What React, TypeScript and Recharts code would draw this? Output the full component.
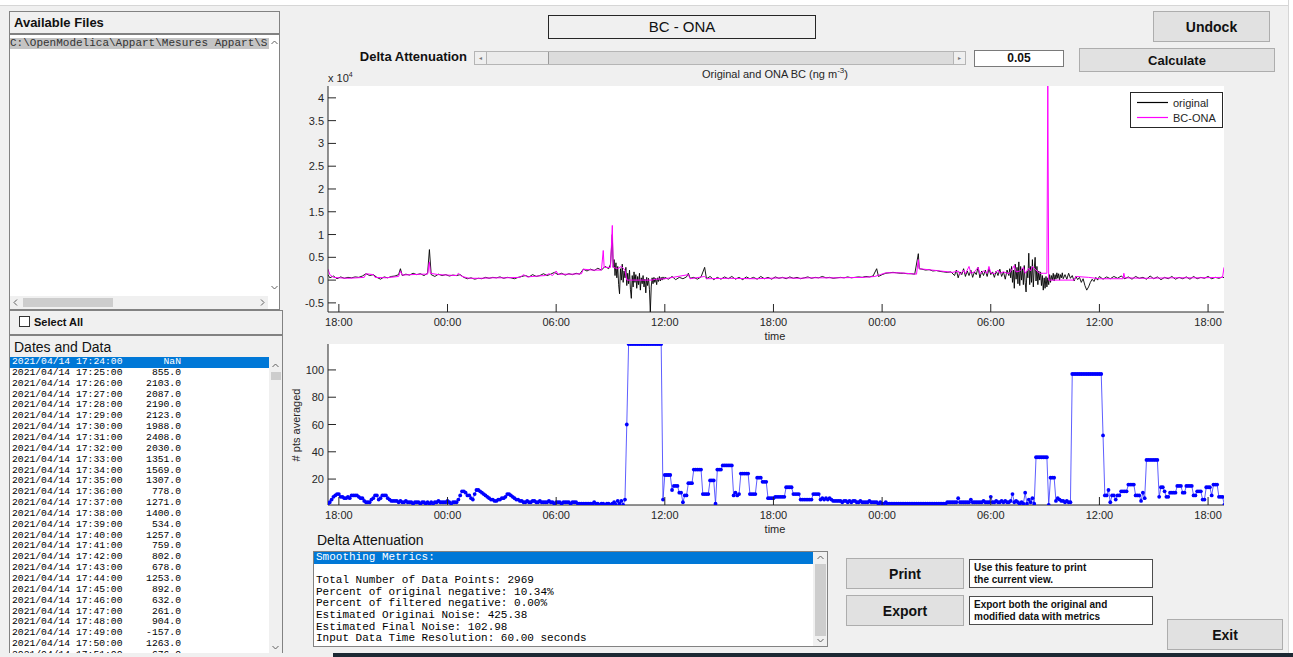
import React from 'react';
import { LineChart, Line, XAxis, YAxis, CartesianGrid, Legend } from 'recharts';

// time axis is in hours since 2021/04/14 00:00
const TIME_DOMAIN: [number, number] = [17.4, 66.88];
const TIME_TICKS = [18, 24, 30, 36, 42, 48, 54, 60, 66];

// BC values in units of 10^4 ng m^-3
const BC_DOMAIN: [number, number] = [-0.7, 4.26];
const BC_TICKS = [-0.5, 0, 0.5, 1, 1.5, 2, 2.5, 3, 3.5, 4];
const SERIES_NAMES = ['original', 'BC-ONA'];
const SERIES_COLORS: Record<string, string> = { original: '#000000', 'BC-ONA': '#ff00ff' };

const PTS_DOMAIN: [number, number] = [1, 119];
const PTS_TICKS = [20, 40, 60, 80, 100];

// [hour, value]
const ORIGINAL: [number, number][] = [
  [17.4, 0.12], [17.5, 0.05], [17.7, 0.09], [17.9, 0.03], [18.1, 0.07], [18.3, 0.04], [18.5, 0.06],
  [18.7, 0.05], [18.9, 0.07], [19.1, 0.06], [19.3, 0.09], [19.5, 0.14], [19.7, 0.1], [19.9, 0.12],
  [20.1, 0.06], [20.3, 0.02], [20.5, 0.07], [20.7, 0.05], [20.9, 0.08], [21.1, 0.09], [21.3, 0.12],
  [21.4, 0.25], [21.5, 0.1], [21.7, 0.13], [21.9, 0.11], [22.1, 0.15], [22.3, 0.12], [22.5, 0.14],
  [22.7, 0.1], [22.9, 0.15], [23.0, 0.67], [23.1, 0.12], [23.3, 0.08], [23.5, 0.13], [23.7, 0.1],
  [23.9, 0.12], [24.1, 0.09], [24.3, 0.11], [24.5, 0.1], [24.7, 0.12], [24.9, 0.06], [25.1, 0.03],
  [25.3, 0.05], [25.5, 0.02], [25.7, 0.04], [25.9, 0.03], [26.1, 0.06], [26.3, 0.04], [26.5, 0.06],
  [26.7, 0.05], [26.9, 0.07], [27.1, 0.04], [27.3, 0.06], [27.5, 0.05], [27.7, 0.03], [27.9, 0.06],
  [28.1, 0.08], [28.3, 0.1], [28.5, 0.07], [28.7, 0.12], [28.9, 0.08], [29.1, 0.1], [29.3, 0.14],
  [29.5, 0.1], [29.7, 0.13], [29.9, 0.17], [30.1, 0.12], [30.3, 0.15], [30.5, 0.11], [30.7, 0.14],
  [30.9, 0.12], [31.1, 0.15], [31.3, 0.13], [31.5, 0.24], [31.7, 0.2], [31.9, 0.24], [32.1, 0.21],
  [32.3, 0.26], [32.5, 0.22], [32.7, 0.3], [32.9, 0.25], [33.0, 0.35], [33.1, 1.0], [33.15, 0.28],
  [33.2, 0.45], [33.25, 0.1], [33.3, 0.38], [33.35, 0.05], [33.4, 0.3], [33.45, -0.1], [33.5, -0.3],
  [33.55, 0.25], [33.6, 0.0], [33.65, 0.35], [33.7, -0.05], [33.75, 0.2], [33.8, 0.05], [33.85, 0.28],
  [33.9, -0.12], [33.95, 0.15], [34.0, -0.08], [34.05, 0.22], [34.1, -0.2], [34.15, -0.4], [34.2, 0.1],
  [34.25, -0.15], [34.3, 0.18], [34.35, -0.05], [34.4, 0.12], [34.45, -0.18], [34.5, 0.08], [34.55, -0.1],
  [34.6, 0.15], [34.65, -0.22], [34.7, 0.05], [34.75, -0.08], [34.8, 0.1], [34.85, -0.15], [34.9, 0.02],
  [34.95, -0.28], [35.0, 0.06], [35.05, -0.12], [35.1, 0.04], [35.15, -0.2], [35.2, -0.7], [35.25, -0.15],
  [35.3, 0.05], [35.35, -0.08], [35.4, 0.06], [35.45, -0.05], [35.5, 0.04], [35.55, -0.1], [35.6, 0.05],
  [35.65, -0.03], [35.7, 0.08], [35.75, -0.02], [35.8, 0.06], [35.85, 0.0], [35.9, 0.07], [35.95, 0.02],
  [36.0, 0.06], [36.2, 0.02], [36.4, 0.08], [36.6, 0.01], [36.8, 0.06], [37.0, 0.03], [37.2, 0.07],
  [37.3, 0.15], [37.4, 0.04], [37.6, 0.06], [37.8, 0.02], [38.0, 0.07], [38.2, 0.28], [38.3, 0.03],
  [38.5, 0.08], [38.7, 0.01], [38.9, 0.06], [39.1, 0.02], [39.3, 0.07], [39.5, 0.03], [39.7, 0.08],
  [39.9, 0.02], [40.1, 0.06], [40.3, 0.01], [40.5, 0.07], [40.7, 0.03], [40.9, 0.06], [41.1, 0.02],
  [41.3, 0.08], [41.5, 0.03], [41.7, 0.06], [41.9, 0.02], [42.1, 0.07], [42.3, 0.04], [42.5, 0.06],
  [42.7, 0.03], [42.9, 0.07], [43.1, 0.04], [43.3, 0.06], [43.5, 0.03], [43.7, 0.05], [43.9, 0.07],
  [44.1, 0.04], [44.3, 0.06], [44.5, 0.05], [44.7, 0.08], [44.9, 0.05], [45.1, 0.06], [45.3, 0.04],
  [45.5, 0.05], [45.7, 0.06], [45.9, 0.05], [46.1, 0.07], [46.3, 0.05], [46.5, 0.06], [46.7, 0.07],
  [46.9, 0.06], [47.1, 0.08], [47.3, 0.07], [47.5, 0.09], [47.7, 0.25], [47.8, 0.08], [48.0, 0.12],
  [48.2, 0.15], [48.4, 0.16], [48.6, 0.17], [48.8, 0.16], [49.0, 0.15], [49.2, 0.15], [49.4, 0.14],
  [49.6, 0.14], [49.8, 0.13], [50.0, 0.58], [50.05, 0.25], [50.2, 0.24], [50.4, 0.22], [50.6, 0.23],
  [50.8, 0.2], [51.0, 0.21], [51.2, 0.19], [51.4, 0.18], [51.6, 0.17], [51.8, 0.18], [52.0, 0.1],
  [52.1, 0.22], [52.2, 0.05], [52.3, 0.18], [52.4, 0.12], [52.5, 0.25], [52.6, 0.08], [52.7, 0.2],
  [52.8, 0.1], [52.9, 0.22], [53.0, 0.06], [53.1, 0.18], [53.2, 0.12], [53.3, 0.28], [53.4, 0.05],
  [53.5, 0.2], [53.6, 0.1], [53.7, 0.22], [53.8, 0.08], [53.9, 0.25], [54.0, 0.12], [54.1, 0.18],
  [54.2, 0.06], [54.3, 0.2], [54.4, 0.1], [54.5, 0.24], [54.6, 0.08], [54.7, 0.18], [54.8, 0.02],
  [54.9, 0.22], [55.0, 0.1], [55.05, 0.25], [55.1, 0.05], [55.15, 0.3], [55.2, -0.05], [55.25, 0.22],
  [55.3, -0.18], [55.35, 0.35], [55.4, 0.02], [55.45, 0.28], [55.5, -0.08], [55.55, 0.4], [55.6, -0.12],
  [55.65, 0.3], [55.7, 0.0], [55.75, 0.25], [55.8, -0.1], [55.85, 0.32], [55.9, -0.05], [55.95, -0.26],
  [56.0, 0.2], [56.05, 0.05], [56.1, 0.59], [56.15, -0.1], [56.2, 0.3], [56.25, -0.05], [56.3, 0.45],
  [56.35, -0.15], [56.4, 0.25], [56.45, 0.5], [56.5, -0.02], [56.55, 0.3], [56.6, -0.1], [56.65, 0.2],
  [56.7, 0.0], [56.75, 0.18], [56.8, -0.12], [56.85, 0.1], [56.9, -0.22], [56.95, 0.05], [57.0, -0.18],
  [57.05, 0.08], [57.1, -0.15], [57.15, 0.05], [57.2, -0.1], [57.25, 0.12], [57.3, -0.05], [57.35, 0.1],
  [57.4, 0.0], [57.45, 0.15], [57.5, -0.02], [57.55, 0.12], [57.6, 0.02], [57.65, 0.16], [57.7, 0.04],
  [57.75, 0.14], [57.8, 0.0], [57.85, 0.12], [57.9, 0.05], [57.95, 0.16], [58.0, 0.03], [58.1, 0.12],
  [58.2, 0.02], [58.3, 0.15], [58.4, 0.04], [58.5, 0.1], [58.6, -0.02], [58.7, 0.08], [58.8, 0.01],
  [58.9, 0.06], [59.0, -0.05], [59.1, 0.03], [59.2, -0.12], [59.3, -0.22], [59.4, -0.15], [59.5, -0.05],
  [59.6, 0.02], [59.7, -0.03], [59.8, 0.06], [59.9, 0.0], [60.0, 0.08], [60.2, 0.02], [60.4, 0.07],
  [60.6, 0.03], [60.8, 0.08], [61.0, 0.04], [61.2, 0.09], [61.4, 0.03], [61.6, 0.07], [61.8, 0.02],
  [62.0, 0.08], [62.2, 0.04], [62.4, 0.06], [62.6, 0.02], [62.8, 0.09], [63.0, 0.03], [63.2, 0.07],
  [63.4, 0.01], [63.6, 0.06], [63.8, 0.03], [64.0, 0.08], [64.2, 0.02], [64.4, 0.06], [64.6, 0.03],
  [64.8, 0.07], [65.0, 0.02], [65.2, 0.08], [65.4, 0.03], [65.6, 0.06], [65.8, 0.04], [66.0, 0.08],
  [66.2, 0.03], [66.4, 0.06], [66.6, 0.04], [66.8, 0.07], [66.88, 0.05],
];

const BC_ONA: [number, number][] = [
  [17.4, 0.24], [17.5, 0.12], [17.7, 0.06], [18.0, 0.05], [18.5, 0.04], [19.0, 0.05], [19.4, 0.06],
  [19.5, 0.14], [19.9, 0.12], [20.0, 0.06], [20.6, 0.05], [21.3, 0.08], [21.4, 0.2], [21.5, 0.11],
  [22.0, 0.12], [22.6, 0.13], [22.9, 0.13], [23.0, 0.4], [23.05, 0.15], [23.5, 0.12], [24.0, 0.11],
  [24.5, 0.1], [24.6, 0.15], [24.8, 0.08], [25.2, 0.04], [25.8, 0.04], [26.5, 0.05], [27.2, 0.05],
  [28.0, 0.06], [28.2, 0.12], [28.4, 0.07], [29.0, 0.09], [29.4, 0.1], [29.6, 0.14], [29.8, 0.1],
  [30.0, 0.2], [30.1, 0.13], [30.8, 0.13], [31.4, 0.14], [31.5, 0.24], [32.0, 0.22], [32.5, 0.22],
  [32.6, 0.65], [32.65, 0.28], [33.0, 0.28], [33.1, 1.2], [33.15, 0.28], [33.4, 0.25], [33.6, 0.3],
  [33.8, 0.22], [33.9, 0.0], [35.3, 0.0], [35.5, 0.02], [36.0, 0.03], [37.3, 0.12], [37.4, 0.03],
  [38.2, 0.08], [38.3, 0.03], [39.5, 0.04], [41.0, 0.03], [42.5, 0.05], [43.4, 0.04], [44.0, 0.05],
  [45.5, 0.05], [47.0, 0.06], [47.6, 0.08], [47.9, 0.12], [48.2, 0.16], [49.0, 0.16], [49.9, 0.13],
  [50.0, 0.45], [50.05, 0.25], [51.0, 0.21], [51.9, 0.17], [52.2, 0.2], [52.3, 0.12], [52.5, 0.22],
  [52.6, 0.14], [52.8, 0.3], [52.9, 0.15], [53.1, 0.18], [53.3, 0.28], [53.4, 0.14], [53.6, 0.2],
  [53.8, 0.15], [53.9, 0.3], [54.0, 0.16], [54.2, 0.14], [54.4, 0.22], [54.5, 0.15], [54.7, 0.18],
  [55.0, 0.14], [55.2, 0.25], [55.3, 0.32], [55.4, 0.18], [55.6, 0.2], [55.8, 0.28], [55.9, 0.15],
  [56.1, 0.26], [56.2, 0.2], [56.3, 0.3], [56.5, 0.22], [56.7, 0.15], [56.9, 0.15], [57.1, 0.15],
  [57.15, 4.26], [57.2, 0.0], [58.6, 0.0], [58.7, 0.08], [59.4, 0.06], [60.0, 0.03], [61.3, 0.03],
  [61.35, 0.15], [61.4, 0.05], [62.5, 0.04], [64.0, 0.05], [65.5, 0.05], [66.8, 0.06], [66.88, 0.28],
];

// # pts averaged, one value every 0.1 h from 17.4 h
const PTS_START = 17.4;
const PTS_STEP = 0.1;
const PTS_AVERAGED = [
  2, 3, 5, 7, 8, 9,
  9, 7, 7, 6, 6, 7, 6, 8, 8, 8,
  8, 7, 6, 6, 4, 3, 3, 3, 5, 6,
  8, 8, 5, 6, 8, 8, 8, 6, 5, 4,
  4, 4, 4, 3, 4, 3, 3, 4, 3, 3,
  3, 2, 3, 3, 3, 2, 3, 3, 2, 3,
  2, 3, 1, 3, 3, 4, 3, 3, 3, 3,
  4, 3, 1, 3, 3, 3, 5, 8, 11, 11,
  10, 8, 8, 6, 5, 9, 12, 12, 11, 10,
  9, 8, 7, 6, 5, 5, 4, 4, 5, 5,
  6, 6, 7, 9, 9, 8, 7, 6, 5, 5,
  4, 4, 3, 3, 4, 3, 3, 4, 4, 3,
  3, 4, 3, 3, 3, 3, 4, 3, 3, 2,
  3, 3, 3, 2, 3, 3, 3, 3, 2, 3,
  3, 3, 2, 2, 2, 2, 2, 2, 2, 2,
  2, 3, 2, 2, 1, 2, 2, 1, 2, 2,
  1, 2, 3, 1, 4, 2, 4, 1, 5, 60,
  119, 119, 119, 119, 119, 119, 119, 119, 119, 119,
  119, 119, 119, 119, 119, 119, 119, 119, 119, 5,
  23, 23, 23, 23, 12, 15, 15, 15, 10, 10,
  3, 8, 8, 17, 17, 17, 27, 27, 27, 27,
  27, 9, 9, 9, 9, 19, 19, 19, 2, 27,
  27, 27, 30, 30, 30, 30, 30, 30, 8, 10,
  8, 9, 24, 24, 24, 24, 24, 9, 9, 9,
  9, 21, 21, 21, 18, 18, 18, 6, 6, 6,
  6, 7, 7, 7, 7, 7, 7, 14, 14, 14,
  14, 9, 9, 9, 9, 5, 5, 5, 5, 5,
  5, 5, 9, 9, 9, 9, 5, 6, 5, 6,
  5, 6, 5, 4, 4, 4, 4, 4, 3, 4,
  4, 3, 4, 3, 4, 4, 3, 3, 4, 3,
  3, 3, 3, 4, 3, 3, 3, 3, 2, 3,
  2, 2, 3, 2, 2, 2, 2, 2, 2, 2,
  2, 2, 2, 2, 2, 2, 2, 2, 2, 2,
  2, 2, 2, 2, 2, 2, 2, 2, 2, 2,
  2, 2, 2, 2, 2, 2, 3, 3, 3, 3,
  3, 3, 6, 3, 3, 3, 3, 3, 3, 5,
  3, 3, 3, 3, 3, 3, 4, 3, 3, 3,
  7, 3, 3, 4, 3, 3, 4, 3, 4, 3,
  3, 4, 9, 3, 4, 3, 2, 3, 2, 10,
  2, 5, 3, 6, 2, 36, 36, 36, 36, 36,
  36, 36, 1, 21, 21, 21, 4, 6, 5, 4,
  4, 3, 4, 3, 3, 97, 97, 97, 97, 97,
  97, 97, 97, 97, 97, 97, 97, 97, 97, 97,
  97, 97, 52, 8, 8, 12, 3, 8, 8, 5,
  8, 8, 11, 11, 11, 11, 16, 16, 16, 16,
  8, 8, 8, 4, 10, 6, 34, 34, 34, 34,
  34, 34, 34, 7, 14, 14, 11, 7, 7, 10,
  10, 10, 10, 15, 15, 15, 10, 10, 15, 15,
  15, 15, 8, 8, 11, 11, 11, 5, 5, 14,
  14, 14, 8, 16, 16, 16, 7, 7, 7, 1,
];

const LIST_DATE = '2021/04/14';
const LIST_TIMES = [
  '17:24:00', '17:25:00', '17:26:00', '17:27:00', '17:28:00', '17:29:00', '17:30:00',
  '17:31:00', '17:32:00', '17:33:00', '17:34:00', '17:35:00', '17:36:00', '17:37:00',
  '17:38:00', '17:39:00', '17:40:00', '17:41:00', '17:42:00', '17:43:00', '17:44:00',
  '17:45:00', '17:46:00', '17:47:00', '17:48:00', '17:49:00', '17:50:00', '17:51:00',
];
const LIST_VALUES = [
  'NaN', '855.0', '2103.0', '2087.0', '2190.0', '2123.0', '1988.0', '2408.0', '2030.0',
  '1351.0', '1569.0', '1307.0', '778.0', '1271.0', '1400.0', '534.0', '1257.0', '759.0',
  '802.0', '678.0', '1253.0', '892.0', '632.0', '261.0', '904.0', '-157.0', '1263.0', '676.0',
];

const METRICS = [
  'Smoothing Metrics:',
  '',
  'Total Number of Data Points: 2969',
  'Percent of original negative: 10.34%',
  'Percent of filtered negative: 0.00%',
  'Estimated Originai Noise: 425.38',
  'Estimated Final Noise: 102.98',
  'Input Data Time Resolution: 60.00 seconds',
];

const SANS = '"Liberation Sans", Arial, Helvetica, sans-serif';
const MONO = '"Liberation Mono", "Courier New", monospace';
const AXIS = '#262626';
const TICK_LEN = 8;
const BG = '#f0f0f0';

const fmtHour = (h: number) => `${String(h % 24).padStart(2, '0')}:00`;

// MATLAB style ticks: drawn inside the box, labels outside
const BottomTick = (p: any) => (
  <g>
    <line x1={p.x} x2={p.x} y1={p.y} y2={p.y - TICK_LEN} stroke={AXIS} />
    <text x={p.x} y={p.y + 14} textAnchor="middle" fontSize={11} fontFamily={SANS} fill={AXIS}>
      {fmtHour(p.payload.value)}
    </text>
  </g>
);
const TopTick = (p: any) => <line x1={p.x} x2={p.x} y1={p.y} y2={p.y + TICK_LEN} stroke={AXIS} />;
const LeftTick = (p: any) => (
  <g>
    <line x1={p.x} x2={p.x + TICK_LEN} y1={p.y} y2={p.y} stroke={AXIS} />
    <text x={p.x - 4} y={p.y + 4} textAnchor="end" fontSize={11} fontFamily={SANS} fill={AXIS}>
      {String(p.payload.value)}
    </text>
  </g>
);
const RightTick = (p: any) => <line x1={p.x} x2={p.x - TICK_LEN} y1={p.y} y2={p.y} stroke={AXIS} />;

const BlueDot = (p: any) => <circle key={p.index} cx={p.cx} cy={p.cy} r={1.9} fill="#0000ff" />;

const BcLegend = (props: any) => {
  const items = [...(props.payload || [])].sort(
    (a: any, b: any) => SERIES_NAMES.indexOf(a.value) - SERIES_NAMES.indexOf(b.value),
  );
  return (
    <div style={{ width: 93, height: 36, background: '#fff', border: `1px solid ${AXIS}`, boxSizing: 'border-box', paddingTop: 2 }}>
      {items.map((e: any) => (
        <div key={e.value} style={{ display: 'flex', alignItems: 'center', height: 15, fontFamily: SANS, fontSize: 11, color: AXIS }}>
          <svg width={42} height={15} style={{ flex: 'none' }}>
            <line x1={6} x2={37} y1={7.5} y2={7.5} stroke={SERIES_COLORS[e.value] ?? e.color} strokeWidth={1.2} />
          </svg>
          {e.value}
        </div>
      ))}
    </div>
  );
};

const Chevron = ({ x, y, dir }: { x: number; y: number; dir: 'up' | 'down' | 'left' | 'right' }) => {
  const pts = {
    up: '0.5,5 3.5,2 6.5,5',
    down: '0.5,2 3.5,5 6.5,2',
    left: '5,0.5 2,3.5 5,6.5',
    right: '2,0.5 5,3.5 2,6.5',
  }[dir];
  return (
    <svg width={7} height={7} style={{ position: 'absolute', left: x - 3.5, top: y - 3.5 }}>
      <polyline points={pts} fill="none" stroke="#606060" strokeWidth={1} />
    </svg>
  );
};

const abs = (left: number, top: number, width: number, height: number, extra: React.CSSProperties = {}): React.CSSProperties => ({
  position: 'absolute', left, top, width, height, boxSizing: 'border-box', ...extra,
});

const Button = ({ x, y, w, h, label, size = 14 }: any) => (
  <div style={abs(x, y, w, h, {
    background: '#e1e1e1', border: '1px solid #adadad', fontFamily: SANS, fontWeight: 'bold',
    fontSize: size, color: '#111', display: 'flex', alignItems: 'center', justifyContent: 'center',
  })}>{label}</div>
);

const InfoBox = ({ x, y, lines }: any) => (
  <div style={abs(x, y, 184, 29, {
    background: '#fff', border: '1px solid #4d4d4d', fontFamily: SANS, fontWeight: 'bold', fontSize: 10,
    lineHeight: '12px', padding: '2px 0 0 4px', color: '#111',
  })}>
    {lines.map((l: string) => <div key={l}>{l}</div>)}
  </div>
);

export default function App() {
  const origData = ORIGINAL.map(([t, v]) => ({ t, v }));
  const onaData = BC_ONA.map(([t, v]) => ({ t, v }));
  const ptsData = PTS_AVERAGED.map((v, i) => ({ t: PTS_START + i * PTS_STEP, v }));

  const axisLine = { stroke: AXIS };

  return (
    <div style={{ position: 'fixed', left: 0, top: 0, width: 1293, height: 657, background: BG, overflow: 'hidden', fontFamily: SANS }}>
      {/* window edges */}
      <div style={abs(0, 0, 1293, 6, { background: '#fff', borderBottom: '1px solid #d6d6d6' })} />
      <div style={abs(1288, 0, 5, 657, { background: '#fff', borderLeft: '1px solid #d6d6d6' })} />
      <div style={abs(333, 653, 960, 4, { background: '#1c2833' })} />

      {/* left column */}
      <div style={abs(9, 11, 271, 23, { border: '1px solid #828282', fontSize: 13, fontWeight: 'bold', lineHeight: '21px', paddingLeft: 4, color: '#111' })}>
        Available Files
      </div>
      <div style={abs(9, 34, 271, 276, { background: '#fff', border: '1px solid #828282', overflow: 'hidden' })}>
        <div style={abs(0, 3, 259, 11, { background: '#c4c4c4', fontFamily: MONO, fontSize: 11, lineHeight: '11px', color: '#333', whiteSpace: 'nowrap', overflow: 'hidden' })}>
          C:\OpenModelica\Appart\Mesures Appart\S
        </div>
      </div>
      <Chevron x={274} y={42} dir="up" />
      <Chevron x={274} y={287} dir="down" />
      <div style={abs(10, 296, 258, 13, { background: BG })} />
      <div style={abs(23, 298, 90, 9, { background: '#cdcdcd' })} />
      <Chevron x={15} y={302} dir="left" />
      <Chevron x={262} y={302} dir="right" />

      <div style={abs(9, 310, 274, 25, { border: '1px solid #828282' })} />
      <div style={abs(19, 316, 11, 11, { background: '#fff', border: '1px solid #333' })} />
      <div style={abs(34, 314, 100, 16, { fontSize: 11, fontWeight: 'bold', lineHeight: '16px', color: '#111' })}>Select All</div>

      <div style={abs(9, 335, 274, 23, { border: '1px solid #828282', fontSize: 14, lineHeight: '22px', paddingLeft: 4, color: '#111' })}>
        Dates and Data
      </div>
      <div style={abs(9, 357, 274, 296, { background: '#fff', borderLeft: '1px solid #828282', borderRight: '1px solid #828282', overflow: 'hidden' })}>
        {LIST_TIMES.map((t, i) => (
          <div key={t} style={abs(0, i * 10.85, 259, 10.85, {
            background: i === 0 ? '#0078d7' : 'transparent', color: i === 0 ? '#fff' : '#000',
            fontFamily: MONO, fontSize: 9.7, lineHeight: '10.85px', whiteSpace: 'pre',
          })}>
            <span style={{ position: 'absolute', left: 2 }}>{`${LIST_DATE} ${t}`}</span>
            <span style={{ position: 'absolute', right: 88 }}>{LIST_VALUES[i]}</span>
          </div>
        ))}
        <div style={abs(259, 0, 14, 296, { background: BG })} />
        <div style={abs(261, 15, 10, 8, { background: '#cdcdcd' })} />
      </div>
      <Chevron x={275} y={365} dir="up" />
      <Chevron x={275} y={647} dir="down" />

      {/* top controls */}
      <div style={abs(548, 15, 268, 24, { border: `1px solid ${AXIS}`, fontSize: 15, lineHeight: '22px', textAlign: 'center', color: '#111' })}>
        BC - ONA
      </div>
      <div style={abs(330, 49, 137, 16, { fontSize: 13, fontWeight: 'bold', textAlign: 'right', lineHeight: '16px', color: '#111' })}>
        Delta Attenuation
      </div>
      <div style={abs(474, 51, 492, 14, { background: '#dcdcdc', border: '1px solid #b5b5b5' })}>
        <div style={abs(0, 0, 12, 12, { background: '#efefef', borderRight: '1px solid #b5b5b5', fontSize: 6, color: '#777', textAlign: 'center', lineHeight: '12px' })}>◂</div>
        <div style={abs(12, 0, 62, 12, { background: '#ebebeb', borderRight: '1px solid #9a9a9a' })} />
        <div style={abs(478, 0, 12, 12, { background: '#efefef', borderLeft: '1px solid #b5b5b5', fontSize: 6, color: '#777', textAlign: 'center', lineHeight: '12px' })}>▸</div>
      </div>
      <div style={abs(974, 50, 90, 17, { background: '#fff', border: '1px solid #7a7a7a', fontSize: 12, fontWeight: 'bold', textAlign: 'center', lineHeight: '15px', color: '#111' })}>
        0.05
      </div>
      <Button x={1153} y={11} w={117} h={31} label="Undock" />
      <Button x={1079} y={48} w={196} h={24} label="Calculate" size={13} />

      {/* top chart */}
      <div style={abs(620, 63, 310, 16, { fontSize: 11, textAlign: 'center', color: AXIS, lineHeight: '16px' })}>
        Original and ONA BC (ng m<sup style={{ fontSize: 8 }}>-3</sup>)
      </div>
      <div style={abs(328, 68, 40, 14, { fontSize: 11, color: AXIS, lineHeight: '14px' })}>
        x 10<sup style={{ fontSize: 7 }}>4</sup>
      </div>
      <div style={{ position: 'absolute', left: 280, top: 60 }}>
        <LineChart width={960} height={290} margin={{ top: 26, right: 16, bottom: 0, left: 0 }}>
          <CartesianGrid fill="#fff" horizontal={false} vertical={false} />
          <XAxis dataKey="t" type="number" domain={TIME_DOMAIN} ticks={TIME_TICKS} interval={0} allowDataOverflow
            height={38} tickSize={0} tickMargin={0} tickLine={false} axisLine={axisLine} tick={BottomTick} />
          <XAxis xAxisId="top" orientation="top" type="number" domain={TIME_DOMAIN} ticks={TIME_TICKS} interval={0} allowDataOverflow
            height={0} tickSize={0} tickMargin={0} tickLine={false} axisLine={axisLine} tick={TopTick} />
          <YAxis type="number" domain={BC_DOMAIN} ticks={BC_TICKS} interval={0} allowDataOverflow
            width={48} tickSize={0} tickMargin={0} tickLine={false} axisLine={axisLine} tick={LeftTick} />
          <YAxis yAxisId="right" orientation="right" type="number" domain={BC_DOMAIN} ticks={BC_TICKS} interval={0} allowDataOverflow
            width={0} tickSize={0} tickMargin={0} tickLine={false} axisLine={axisLine} tick={RightTick} />
          <Legend layout="vertical" align="center" verticalAlign="middle"
            wrapperStyle={{ left: 850, top: 32, width: 93 }} content={BcLegend} />
          <Line data={origData} dataKey="v" name={SERIES_NAMES[0]} type="linear" stroke={SERIES_COLORS.original}
            strokeWidth={0.9} dot={false} isAnimationActive={false} />
          <Line data={onaData} dataKey="v" name={SERIES_NAMES[1]} type="linear" stroke={SERIES_COLORS['BC-ONA']}
            strokeWidth={1} dot={false} isAnimationActive={false} />
        </LineChart>
      </div>
      <div style={abs(740, 329, 70, 14, { fontSize: 11, textAlign: 'center', color: AXIS, lineHeight: '14px' })}>time</div>

      {/* bottom chart */}
      <div style={abs(289, 418, 14, 14, { overflow: 'visible' })}>
        <div style={{ position: 'absolute', left: 7, top: 7, transform: 'translate(-50%, -50%) rotate(-90deg)', whiteSpace: 'nowrap', fontSize: 11, color: AXIS }}>
          # pts averaged
        </div>
      </div>
      <div style={{ position: 'absolute', left: 280, top: 330 }}>
        <LineChart width={960} height={215} margin={{ top: 14, right: 16, bottom: 0, left: 0 }}>
          <CartesianGrid fill="#fff" horizontal={false} vertical={false} />
          <XAxis dataKey="t" type="number" domain={TIME_DOMAIN} ticks={TIME_TICKS} interval={0} allowDataOverflow
            height={40} tickSize={0} tickMargin={0} tickLine={false} axisLine={axisLine} tick={BottomTick} />
          <XAxis xAxisId="top" orientation="top" type="number" domain={TIME_DOMAIN} ticks={TIME_TICKS} interval={0} allowDataOverflow
            height={0} tickSize={0} tickMargin={0} tickLine={false} axisLine={axisLine} tick={TopTick} />
          <YAxis type="number" domain={PTS_DOMAIN} ticks={PTS_TICKS} interval={0} allowDataOverflow
            width={48} tickSize={0} tickMargin={0} tickLine={false} axisLine={axisLine} tick={LeftTick} />
          <YAxis yAxisId="right" orientation="right" type="number" domain={PTS_DOMAIN} ticks={PTS_TICKS} interval={0} allowDataOverflow
            width={0} tickSize={0} tickMargin={0} tickLine={false} axisLine={axisLine} tick={RightTick} />
          <Line data={ptsData} dataKey="v" name="# pts averaged" type="linear" stroke="#3535ff" strokeWidth={0.8}
            dot={BlueDot} isAnimationActive={false} />
        </LineChart>
      </div>
      <div style={abs(740, 522, 70, 14, { fontSize: 11, textAlign: 'center', color: AXIS, lineHeight: '14px' })}>time</div>

      {/* bottom controls */}
      <div style={abs(317, 531, 200, 18, { fontSize: 14, lineHeight: '18px', color: '#111' })}>Delta Attenuation</div>
      <div style={abs(313, 551, 515, 96, { background: '#fff', border: '1px solid #828282', overflow: 'hidden' })}>
        {METRICS.map((m, i) => (
          <div key={i} style={abs(0, i * 11.6, 499, 11.6, {
            background: i === 0 ? '#0078d7' : 'transparent', color: i === 0 ? '#fff' : '#000',
            fontFamily: MONO, fontSize: 11, lineHeight: '11.6px', paddingLeft: 2, whiteSpace: 'pre',
          })}>{m}</div>
        ))}
        <div style={abs(499, 0, 15, 96, { background: BG })} />
        <div style={abs(501, 12, 11, 72, { background: '#cdcdcd' })} />
      </div>
      <Chevron x={820} y={557} dir="up" />
      <Chevron x={820} y={640} dir="down" />

      <Button x={846} y={558} w={118} h={31} label="Print" />
      <Button x={846} y={595} w={118} h={31} label="Export" />
      <InfoBox x={969} y={559} lines={['Use this feature to print', 'the current view.']} />
      <InfoBox x={969} y={596} lines={['Export both the original and', 'modified data with metrics']} />
      <Button x={1167} y={619} w={116} h={31} label="Exit" />
    </div>
  );
}
